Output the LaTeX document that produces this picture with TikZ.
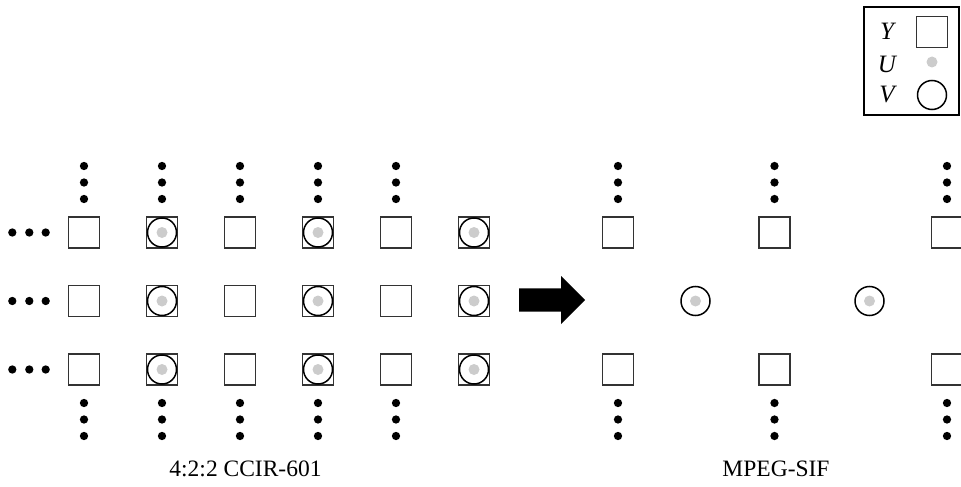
\documentclass[tikz,border=0pt]{standalone}
\usepackage{fontspec}
\setmainfont{Liberation Serif}
\usetikzlibrary{calc}
\begin{document}
\begin{tikzpicture}[x=1pt,y=-1pt,
  ysq/.style={shape=rectangle, draw=black!80, line width=1.7pt, minimum size=31pt, inner sep=0pt},
  vcirc/.style={shape=circle, draw=black, line width=1.5pt, minimum size=29pt, inner sep=0pt},
  udot/.style={shape=circle, fill=black!20, minimum size=11pt, inner sep=0pt},
  bdot/.style={shape=circle, fill=black, minimum size=8.3pt, inner sep=0pt},
  lbl/.style={font=\fontsize{23.5}{28}\selectfont},
  leg/.style={font=\fontsize{25}{30}\selectfont\itshape, inner sep=0pt}]
\useasboundingbox (0,0) rectangle (961,487);

% ---- left grid: 4:2:2 CCIR-601 ----
\foreach \i in {1,...,6}{
  \foreach \r in {1,2,3}{
    \node[ysq] (L\i-\r) at ({84+78*(\i-1)},{232.5+68.5*(\r-1)}) {};
  }
}
\foreach \i in {2,4,6}{
  \foreach \r in {1,2,3}{
    \node[vcirc] (LV\i-\r) at (L\i-\r) {};
    \node[udot] (LU\i-\r) at (L\i-\r) {};
  }
}
% vertical ellipsis
\foreach \i in {1,...,5}{
  \foreach \k/\d in {1/33.5,2/50,3/66.5}{
    \node[bdot] (LA\i-\k) at ($(L\i-1)+(0,-\d)$) {};
    \node[bdot] (LB\i-\k) at ($(L\i-3)+(0,\d)$) {};
  }
}
% horizontal ellipsis
\foreach \r in {1,2,3}{
  \foreach \k/\xx in {1/12.3,2/29.3,3/45.7}{
    \node[bdot] (LH\r-\k) at (\xx,{232.5+68.5*(\r-1)}) {};
  }
}

% ---- arrow ----
\fill[black] (519,288.3) -- (561,288.3) -- (561,276) -- (585,300) -- (561,324)
  -- (561,311.7) -- (519,311.7) -- cycle;

% ---- right grid: MPEG-SIF ----
\foreach \i/\xx in {1/618,2/774.5,3/947}{
  \node[ysq] (R\i-1) at (\xx,232.5) {};
  \node[ysq] (R\i-3) at (\xx,369.5) {};
  \foreach \k/\d in {1/33.5,2/50,3/66.5}{
    \node[bdot] (RA\i-\k) at ($(R\i-1)+(0,-\d)$) {};
    \node[bdot] (RB\i-\k) at ($(R\i-3)+(0,\d)$) {};
  }
}
\foreach \i/\xx in {1/695.5,2/869.5}{
  \node[vcirc] (RV\i) at (\xx,301) {};
  \node[udot] (RU\i) at (RV\i) {};
}

% ---- labels ----
\node[lbl] (lab1) at (245.5,469) {4:2:2 CCIR-601};
\node[lbl] (lab2) at (776,469) {MPEG-SIF};

% ---- legend ----
\node[shape=rectangle, draw=black, line width=1.4pt, minimum width=95pt, minimum height=108pt, inner sep=0pt] (legend) at (911.5,61) {};
\node[leg] (legY) at (887,31.5) {Y};
\node[ysq] (legsq) at (932,32) {};
\node[leg] (legU) at (887,64) {U};
\node[udot] (legdot) at (932,62) {};
\node[leg] (legV) at (887,95) {V};
\node[vcirc] (legcirc) at (932,95) {};
\end{tikzpicture}
\end{document}
